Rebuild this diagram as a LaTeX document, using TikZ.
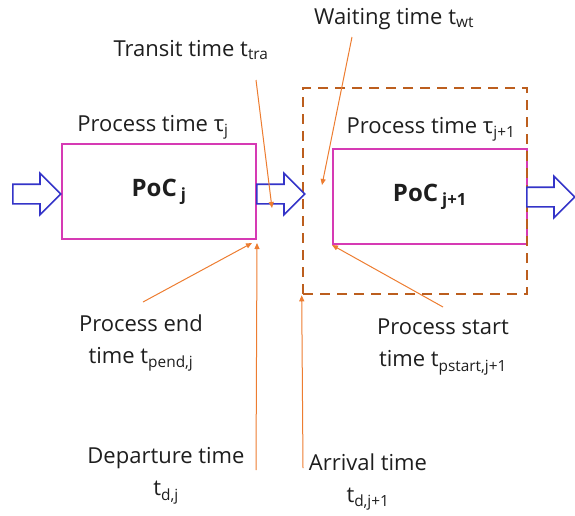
\documentclass[tikz,border=0pt]{standalone}
\usepackage{fontspec}
\setmainfont{Open Sans}
\usepackage{tikz}
\usetikzlibrary{arrows.meta, shapes.arrows}
\definecolor{pocmag}{RGB}{214,58,180}
\definecolor{flowblue}{RGB}{52,52,200}
\definecolor{waitbrown}{RGB}{188,94,30}
\definecolor{notearrow}{RGB}{237,125,49}
\definecolor{labelgray}{RGB}{30,30,30}

\begin{document}
\begin{tikzpicture}[x=1pt, y=-1pt,
        poc/.style={draw=pocmag, line width=2pt, minimum width=194pt, minimum height=95pt,
            text=labelgray, font=\fontsize{24}{28}\selectfont\bfseries},
        flow/.style={shape=single arrow, draw=flowblue, fill=white, line width=1.6pt,
            minimum height=48pt, minimum width=40pt, single arrow head extend=11pt,
            inner xsep=0pt, inner ysep=9pt, anchor=tail},
        label/.style={font=\fontsize{22}{32}\selectfont, text=labelgray, align=center, inner sep=2pt},
        note/.style={draw=notearrow, line width=1pt, -{Triangle[length=6pt,width=5pt]}}
    ]
    \useasboundingbox (0,0) rectangle (575,515);

    % the two points of care
    \node[poc] (pocj) at (159,191.5) {PoC\,\textsubscript{j}};
    \node[poc] (pocjj) at (430,196.5) {PoC\,\textsubscript{j+1}};
    \node[draw=waitbrown, line width=2.6pt, dash pattern=on 10pt off 7pt,
        minimum width=224pt, minimum height=206pt] (wbox) at (415,191) {};

    % flow arrows
    \node[flow] (inflow) at (12,194) {};
    \node[flow] (midflow) at (256,194) {};
    \node[flow] (outflow) at (526,197) {};

    % labels
    \node[label] (ptj) at (153,127) {Process time τ\textsubscript{j}};
    \node[label] (ptjj) at (431,129) {Process time τ\textsubscript{j+1}};
    \node[label] (tra) at (191,50) {Transit time t\textsubscript{tra}};
    \node[label] (wt) at (394,19) {Waiting time t\textsubscript{wt}};
    \node[label] (pend) at (141,343) {Process end\\time t\textsubscript{pend,j}};
    \node[label] (pstart) at (443,347) {Process start\\time t\textsubscript{pstart,j+1}};
    \node[label] (dep) at (166,476) {Departure time\\t\textsubscript{d,j}};
    \node[label] (arr) at (368,482) {Arrival time\\t\textsubscript{d,j+1}};

    % pointers
    \coordinate (trafrom) at (256,80);
    \coordinate (wtfrom) at (352,37);
    \coordinate (wtto) at (322,185);
    \coordinate (pendfrom) at (143,302);
    \coordinate (pstartfrom) at (443,307);
    \coordinate (depfrom) at (256,470);
    \coordinate (arrfrom) at (303,468);

    \draw[note] (trafrom) -- ([xshift=16pt,yshift=-14pt]midflow.tail);
    \draw[note] (wtfrom) -- (wtto);
    \draw[note] (pendfrom) -- ([xshift=-5pt,yshift=-3pt]pocj.south east);
    \draw[note] (depfrom) -- ([yshift=-3pt]pocj.south east);
    \draw[note] (pstartfrom) -- (pocjj.south west);
    \draw[note] (arrfrom) -- (wbox.south west);
\end{tikzpicture}
\end{document}
